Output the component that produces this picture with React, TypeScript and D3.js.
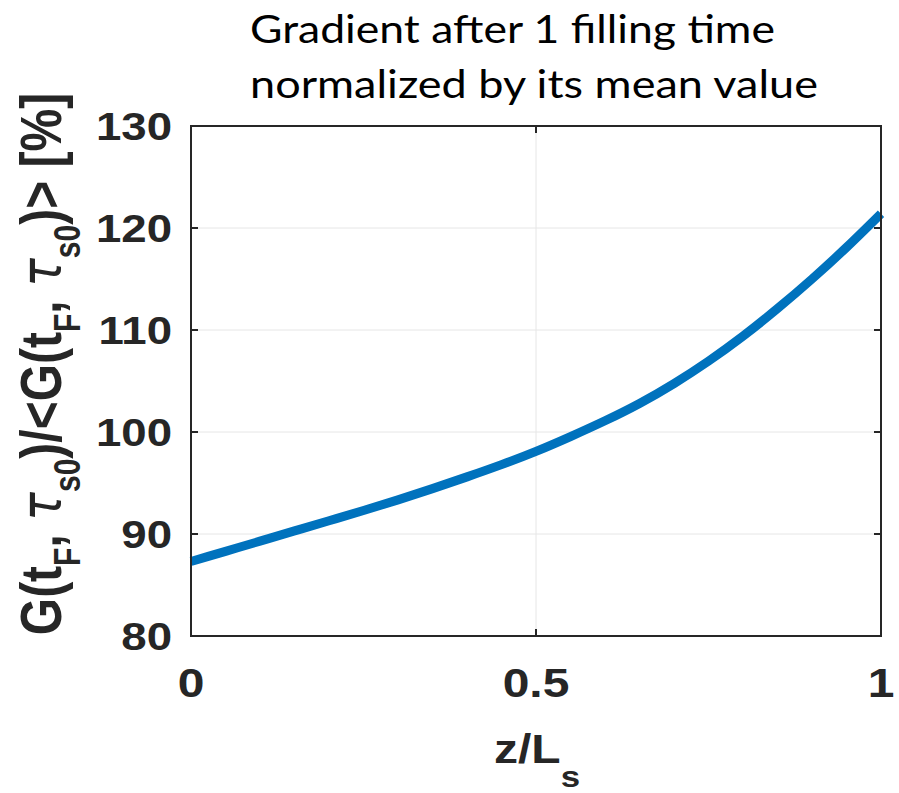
import React from "react";
import * as d3 from "d3";

// Position along the structure, normalized by its length
const zValues = [0, 0.05, 0.1, 0.15, 0.2, 0.25, 0.3, 0.35, 0.4, 0.45, 0.5, 0.55, 0.6, 0.65, 0.7, 0.75, 0.8, 0.85, 0.9, 0.95, 1];
// Gradient after one filling time, in % of its mean value
const gradientPct = [87.3, 88.3, 89.3, 90.3, 91.3, 92.3, 93.35, 94.45, 95.6, 96.8, 98.1, 99.55, 101.1, 102.8, 104.75, 106.95, 109.4, 112.1, 115.0, 118.1, 121.4];

const xTicks = [0, 0.5, 1];
const xTickLabels = ["0", "0.5", "1"];
const yTicks = [80, 90, 100, 110, 120, 130];
const yTickLabels = ["80", "90", "100", "110", "120", "130"];
const titleLines = ["Gradient after 1 filling time", "normalized by its mean value"];

const W = 899;
const H = 793;
const left = 191;
const right = 881;
const top = 126;
const bottom = 636;
const axisColor = "#262626";
const gridColor = "#e6e6e6";
const lineColor = "#0072BD";
const sx = 1.2; // horizontal stretch of the bold axis lettering
const boldFont = "'Liberation Sans', Arial, Helvetica, sans-serif";

export default function App() {
  const x = d3.scaleLinear().domain([0, 1]).range([left, right]);
  const y = d3.scaleLinear().domain([80, 130]).range([bottom, top]);

  const points: [number, number][] = zValues.map((z, i) => [z, gradientPct[i]]);
  const line = d3
    .line<[number, number]>()
    .x((d) => x(d[0]))
    .y((d) => y(d[1]))
    .curve(d3.curveNatural);

  const tickLen = 7;
  const subFs = 30;
  const subDy = 16;
  const greek = "'DejaVu Sans', sans-serif";

  return (
    <svg
      width={W}
      height={H}
      viewBox={`0 0 ${W} ${H}`}
      style={{ position: "absolute", left: 0, top: 0, background: "#fff" }}
    >
      <rect x={0} y={0} width={W} height={H} fill="#fff" />

      {/* grid */}
      {xTicks
        .filter((t) => t > 0 && t < 1)
        .map((t) => (
          <line key={"gx" + t} x1={x(t)} x2={x(t)} y1={top} y2={bottom} stroke={gridColor} strokeWidth={1} />
        ))}
      {yTicks
        .filter((t) => t > 80 && t < 130)
        .map((t) => (
          <line key={"gy" + t} x1={left} x2={right} y1={y(t)} y2={y(t)} stroke={gridColor} strokeWidth={1} />
        ))}

      {/* data curve */}
      <path d={line(points) || ""} fill="none" stroke={lineColor} strokeWidth={9} strokeLinecap="butt" strokeLinejoin="round" />

      {/* axes box */}
      <rect x={left} y={top} width={right - left} height={bottom - top} fill="none" stroke={axisColor} strokeWidth={2} />

      {/* ticks */}
      {xTicks.map((t) => (
        <g key={"tx" + t}>
          <line x1={x(t)} x2={x(t)} y1={bottom} y2={bottom - tickLen} stroke={axisColor} strokeWidth={2} />
          <line x1={x(t)} x2={x(t)} y1={top} y2={top + tickLen} stroke={axisColor} strokeWidth={2} />
        </g>
      ))}
      {yTicks.map((t) => (
        <g key={"ty" + t}>
          <line x1={left} x2={left + tickLen} y1={y(t)} y2={y(t)} stroke={axisColor} strokeWidth={2} />
          <line x1={right} x2={right - tickLen} y1={y(t)} y2={y(t)} stroke={axisColor} strokeWidth={2} />
        </g>
      ))}

      {/* y tick labels */}
      {yTicks.map((t, i) => (
        <text
          key={"ly" + t}
          transform={`translate(172, ${y(t) + 14}) scale(${sx}, 1)`}
          textAnchor="end"
          fontFamily={boldFont}
          fontWeight="bold"
          fontSize={38}
          fill={axisColor}
        >
          {yTickLabels[i]}
        </text>
      ))}

      {/* x tick labels */}
      {xTicks.map((t, i) => (
        <text
          key={"lx" + t}
          transform={`translate(${x(t)}, 697) scale(${sx}, 1)`}
          textAnchor="middle"
          fontFamily={boldFont}
          fontWeight="bold"
          fontSize={40}
          fill={axisColor}
        >
          {xTickLabels[i]}
        </text>
      ))}

      {/* x label */}
      <text
        transform={`translate(537, 763) scale(${sx}, 1)`}
        textAnchor="middle"
        fontFamily={boldFont}
        fontWeight="bold"
        fontSize={40}
        fill={axisColor}
      >
        z/L
        <tspan fontSize={29} dy={24}>s</tspan>
      </text>

      {/* y label */}
      <text
        transform={`translate(61, 364) scale(${sx}, 1) rotate(-90)`}
        textAnchor="middle"
        fontFamily={boldFont}
        fontWeight="bold"
        fontSize={48}
        fill={axisColor}
      >
        G(t
        <tspan fontSize={subFs} dy={subDy}>F</tspan>
        <tspan dy={-subDy}>, </tspan>
        <tspan fontFamily={greek} fontWeight="normal" fontStyle="italic">τ</tspan>
        <tspan fontSize={subFs} dy={subDy}>s0</tspan>
        <tspan dy={-subDy}>)/&lt;G(t</tspan>
        <tspan fontSize={subFs} dy={subDy}>F</tspan>
        <tspan dy={-subDy}>, </tspan>
        <tspan fontFamily={greek} fontWeight="normal" fontStyle="italic">τ</tspan>
        <tspan fontSize={subFs} dy={subDy}>s0</tspan>
        <tspan dy={-subDy}>)&gt; [%]</tspan>
      </text>

      {/* title */}
      <text
        x={250}
        y={43}
        fontFamily="Lato, 'Open Sans', sans-serif"
        fontSize={39}
        fill="#000"
        textLength={525}
        lengthAdjust="spacingAndGlyphs"
      >
        {titleLines[0]}
      </text>
      <text
        x={250}
        y={98}
        fontFamily="Lato, 'Open Sans', sans-serif"
        fontSize={39}
        fill="#000"
        textLength={568}
        lengthAdjust="spacingAndGlyphs"
      >
        {titleLines[1]}
      </text>
    </svg>
  );
}
